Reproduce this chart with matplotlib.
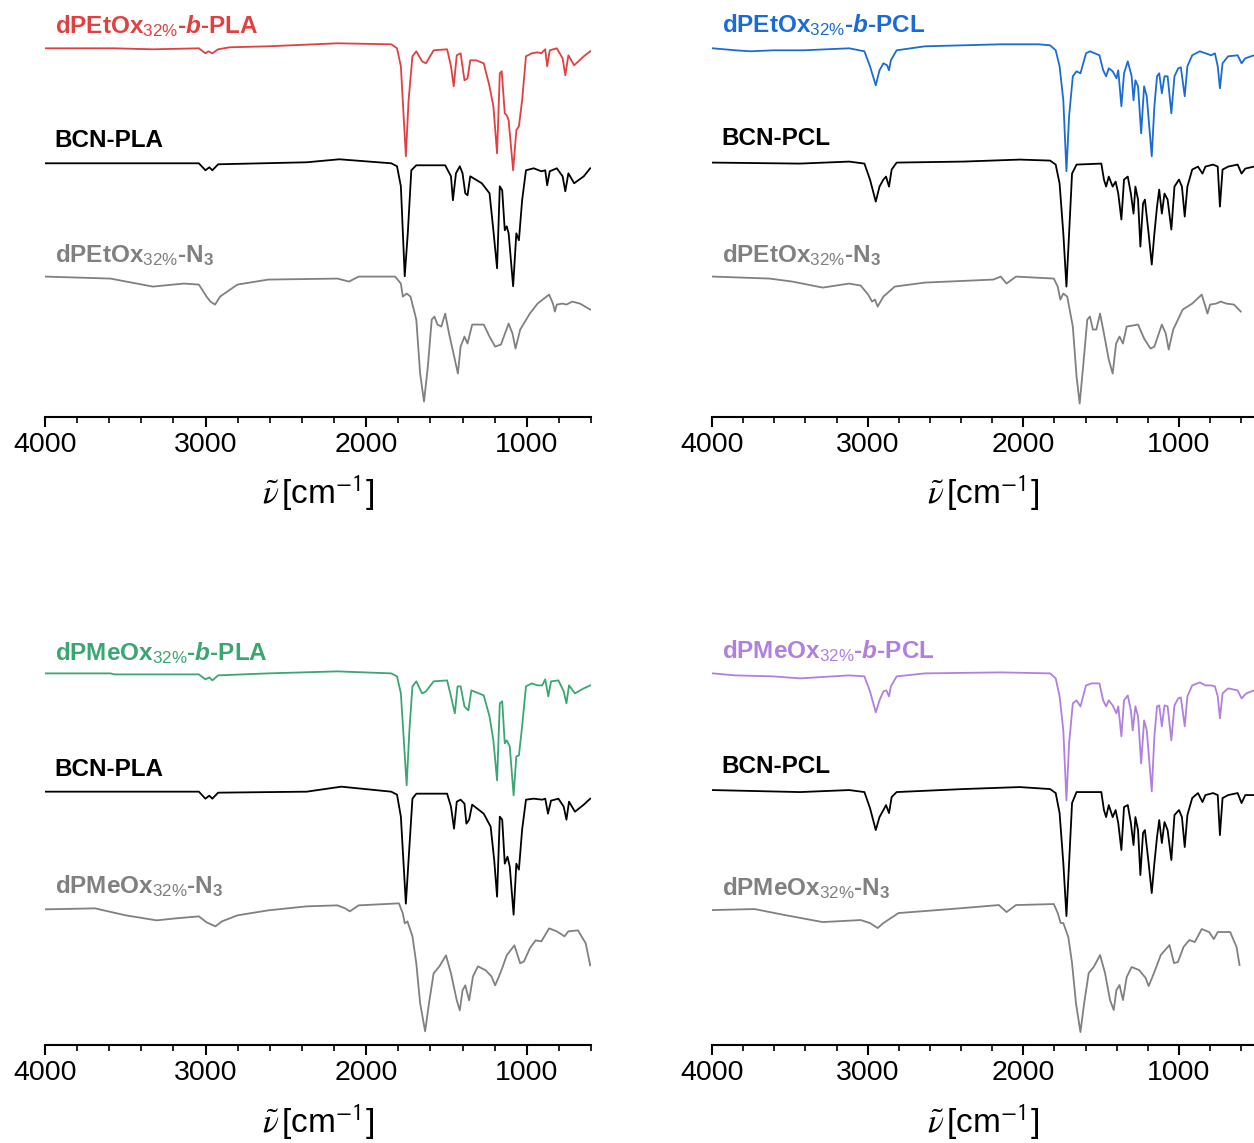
import matplotlib.pyplot as plt
from matplotlib.ticker import MultipleLocator

plt.rcParams['font.family'] = ['Liberation Sans', 'DejaVu Sans']
plt.rcParams['mathtext.fontset'] = 'custom'
plt.rcParams['mathtext.rm'] = 'Liberation Sans'
plt.rcParams['mathtext.it'] = 'Liberation Sans:italic'
plt.rcParams['mathtext.bf'] = 'Liberation Sans:bold'
plt.rcParams['mathtext.bfit'] = 'Liberation Sans:italic:bold'

# ---- spectra, wavenumber [cm-1] and relative transmittance (a.u.) ----
# panel 1: dPEtOx-b-PLA
etox_pla_wn = [4000, 3569, 3329, 3042, 3001, 2982, 2958, 2922, 2850, 2610, 2179, 1844, 1808, 1784,
               1753, 1736, 1712, 1688, 1652, 1628, 1580, 1496, 1472, 1455, 1436, 1412, 1388, 1369,
               1352, 1316, 1268, 1232, 1208, 1185, 1168, 1156, 1137, 1125, 1113, 1085, 1065, 1049,
               1029, 1005, 969, 933, 909, 885, 873, 857, 813, 777, 760, 741, 705, 645, 605]
etox_pla_t = [95, 95, 94, 95, 90, 92, 90, 94, 96, 97, 100, 99, 95, 77,
              -13, 43, 87, 92, 82, 80, 93, 94, 77, 57, 88, 90, 63, 65,
              83, 83, 80, 57, 37, -10, 70, 72, 30, 28, 23, -27, 13, 17,
              43, 87, 90, 91, 90, 94, 77, 93, 95, 85, 68, 88, 78, 87, 92]

bcn_pla1_wn = [4000, 3042, 3001, 2977, 2958, 2922, 2371, 2167, 1844, 1808, 1784, 1760, 1741, 1719,
               1688, 1508, 1472, 1460, 1441, 1417, 1400, 1383, 1369, 1352, 1280, 1232, 1208, 1185,
               1168, 1153, 1137, 1125, 1113, 1085, 1065, 1049, 1029, 1005, 957, 909, 885, 873,
               857, 813, 777, 760, 741, 705, 645, 605]
bcn_pla1_t = [100, 100, 93, 96, 93, 99, 101, 104, 100, 97, 77, -13, 30, 93,
              98, 98, 87, 63, 90, 97, 90, 70, 68, 87, 80, 70, 33, -5,
              77, 73, 33, 37, 30, -23, 30, 23, 63, 93, 95, 92, 93, 78,
              92, 95, 87, 72, 90, 80, 87, 95]

etox_n3_wn = [4000, 3593, 3329, 3137, 3042, 2994, 2970, 2941, 2910, 2802, 2610, 2179, 2107, 2047,
              1820, 1784, 1772, 1748, 1724, 1688, 1664, 1640, 1616, 1592, 1575, 1556, 1532, 1508,
              1484, 1448, 1429, 1412, 1388, 1369, 1340, 1268, 1232, 1197, 1161, 1113, 1089, 1070,
              1041, 981, 933, 861, 837, 825, 813, 777, 753, 717, 669, 605]
etox_n3_t = [100, 98, 90, 93, 92, 80, 75, 72, 80, 92, 97, 98, 95, 100,
             100, 93, 80, 83, 80, 57, 3, -25, 10, 57, 60, 52, 50, 63,
             43, 17, 3, 30, 40, 33, 52, 52, 40, 30, 32, 53, 43, 28,
             47, 63, 73, 82, 73, 65, 72, 73, 72, 75, 73, 67]

# panel 2: dPEtOx-b-PCL
etox_pcl_wn = [3995, 3849, 3752, 3606, 3411, 3119, 3021, 2985, 2948, 2924, 2899, 2875, 2863, 2851,
               2814, 2632, 2388, 2145, 1901, 1828, 1792, 1767, 1743, 1723, 1706, 1682, 1658, 1633,
               1597, 1572, 1511, 1487, 1468, 1451, 1426, 1402, 1390, 1370, 1353, 1329, 1304, 1292,
               1280, 1263, 1243, 1224, 1207, 1175, 1158, 1141, 1127, 1110, 1093, 1073, 1049, 1029,
               1005, 988, 963, 946, 915, 866, 830, 793, 769, 751, 737, 720, 684, 623, 598, 574, 518]
etox_pcl_t = [95, 93, 92, 93, 93, 95, 92, 77, 58, 73, 80, 78, 73, 83,
              93, 97, 98, 99, 99, 98, 93, 77, 43, -28, 27, 67, 72, 70,
              90, 92, 88, 73, 67, 75, 72, 65, 73, 37, 70, 82, 67, 43,
              63, 57, 10, 57, 47, -13, 37, 67, 70, 50, 67, 67, 30, 67,
              75, 76, 47, 77, 88, 92, 90, 88, 90, 77, 55, 80, 87, 88, 80, 85, 88]

bcn_pcl1_wn = [3995, 3435, 3119, 3021, 2985, 2948, 2924, 2899, 2882, 2863, 2846, 2814, 2388, 2023,
               1828, 1792, 1767, 1743, 1723, 1706, 1687, 1658, 1499, 1482, 1468, 1451, 1426, 1407,
               1390, 1370, 1353, 1329, 1309, 1292, 1280, 1263, 1248, 1231, 1219, 1195, 1175, 1158,
               1141, 1127, 1110, 1093, 1073, 1049, 1029, 1000, 981, 963, 946, 915, 878, 849,
               830, 781, 751, 737, 720, 684, 623, 598, 574, 518]
bcn_pcl1_t = [100, 99, 101, 99, 83, 61, 76, 83, 86, 76, 93, 100, 101, 103,
              102, 98, 79, 29, -24, 29, 89, 98, 99, 83, 76, 86, 76, 81,
              69, 43, 83, 86, 69, 49, 76, 63, 16, 59, 63, 29, -2, 29,
              56, 73, 49, 69, 63, 33, 76, 83, 76, 46, 76, 93, 96, 89,
              96, 98, 96, 56, 93, 96, 98, 89, 94, 96]

etox_n3b_wn = [3995, 3630, 3484, 3289, 3119, 3045, 2997, 2972, 2953, 2936, 2899, 2826, 2632, 2193,
               2145, 2108, 2047, 1804, 1779, 1762, 1743, 1718, 1682, 1658, 1638, 1614, 1589, 1572,
               1553, 1531, 1507, 1482, 1451, 1426, 1404, 1382, 1360, 1336, 1263, 1224, 1183, 1158,
               1110, 1085, 1066, 1037, 976, 915, 854, 830, 817, 800, 761, 732, 696, 647, 603]
etox_n3b_t = [100, 98, 95, 89, 93, 91, 82, 75, 77, 70, 80, 90, 94, 97,
              100, 93, 100, 98, 90, 77, 83, 80, 50, 0, -27, 13, 57, 60,
              47, 47, 63, 43, 17, 3, 33, 40, 33, 50, 52, 38, 28, 30,
              52, 43, 27, 47, 67, 73, 82, 70, 63, 72, 73, 75, 73, 72, 65]

# panel 3: dPMeOx-b-PLA
meox_pla_wn = [4000, 3593, 3569, 3042, 3001, 2977, 2958, 2922, 2610, 2179, 1844, 1808, 1784, 1748,
               1731, 1712, 1688, 1652, 1628, 1580, 1496, 1472, 1448, 1431, 1412, 1388, 1364, 1345,
               1268, 1232, 1208, 1185, 1168, 1153, 1137, 1125, 1106, 1082, 1065, 1049, 1029, 1005,
               969, 933, 904, 885, 866, 849, 803, 770, 753, 737, 700, 645, 605]
meox_pla_t = [100, 100, 99, 99, 94, 96, 93, 98, 100, 102, 100, 97, 80, -12,
              43, 87, 92, 80, 82, 92, 93, 77, 60, 87, 87, 67, 63, 83,
              78, 57, 33, -7, 70, 72, 30, 33, 27, -22, 17, 18, 47, 87,
              90, 88, 88, 94, 77, 92, 93, 82, 70, 88, 80, 85, 88]

bcn_pla2_wn = [4000, 3042, 3001, 2977, 2958, 2922, 2371, 2155, 1844, 1808, 1784, 1753, 1736, 1712,
               1688, 1496, 1472, 1453, 1436, 1412, 1388, 1376, 1359, 1340, 1268, 1225, 1203, 1185,
               1168, 1153, 1137, 1120, 1106, 1082, 1065, 1049, 1029, 1005, 957, 904, 885, 868,
               849, 803, 770, 753, 737, 700, 645, 605]
bcn_pla2_t = [100, 100, 93, 96, 93, 99, 100, 105, 100, 97, 75, -12, 32, 93,
              98, 98, 85, 63, 90, 92, 88, 68, 72, 87, 78, 65, 32, -5,
              75, 72, 28, 35, 25, -23, 28, 22, 62, 92, 93, 92, 93, 78,
              91, 93, 85, 72, 90, 80, 87, 93]

meox_n3_wn = [4000, 3689, 3497, 3305, 3185, 3042, 2994, 2939, 2898, 2802, 2610, 2371, 2179, 2131,
              2102, 2047, 1796, 1772, 1760, 1743, 1712, 1688, 1664, 1633, 1609, 1580, 1544, 1503,
              1472, 1436, 1417, 1400, 1383, 1359, 1335, 1304, 1256, 1220, 1197, 1173, 1149, 1125,
              1077, 1041, 1017, 981, 945, 909, 861, 813, 765, 741, 681, 633, 605]
meox_n3_t = [94, 95, 88, 83, 85, 87, 81, 77, 82, 88, 93, 97, 98, 95,
             92, 98, 100, 90, 80, 82, 67, 40, 0, -28, 0, 30, 37, 48,
             30, 3, -7, 13, 18, 3, 27, 37, 33, 27, 18, 27, 37, 48,
             58, 40, 42, 55, 63, 62, 75, 72, 67, 72, 73, 60, 38]

# panel 4: dPMeOx-b-PCL
meox_pcl_wn = [3995, 3849, 3606, 3435, 3119, 3021, 2985, 2948, 2924, 2899, 2880, 2863, 2851, 2814,
               2632, 2145, 1828, 1792, 1767, 1743, 1723, 1706, 1682, 1658, 1633, 1597, 1560, 1511,
               1487, 1468, 1451, 1426, 1402, 1390, 1370, 1353, 1329, 1309, 1297, 1280, 1263, 1243,
               1224, 1207, 1175, 1158, 1141, 1127, 1110, 1093, 1073, 1049, 1029, 1005, 988, 963,
               946, 915, 866, 830, 793, 769, 751, 737, 720, 684, 623, 598, 567, 518]
meox_pcl_t = [100, 98, 97, 95, 98, 97, 82, 61, 73, 82, 83, 77, 87, 97,
              100, 101, 100, 95, 77, 43, -27, 30, 70, 73, 67, 88, 90, 90,
              73, 67, 73, 68, 60, 67, 37, 73, 78, 63, 43, 67, 57, 10,
              53, 43, -18, 37, 67, 68, 47, 68, 67, 33, 68, 75, 76, 47,
              77, 88, 91, 88, 88, 87, 77, 55, 80, 85, 83, 75, 80, 83]

bcn_pcl2_wn = [3995, 3435, 3119, 3021, 2985, 2948, 2924, 2899, 2882, 2863, 2846, 2814, 2388, 2023,
               1828, 1792, 1767, 1743, 1723, 1706, 1687, 1658, 1499, 1482, 1468, 1451, 1426, 1407,
               1390, 1370, 1353, 1329, 1309, 1292, 1280, 1263, 1248, 1231, 1219, 1195, 1175, 1158,
               1141, 1127, 1110, 1093, 1073, 1049, 1029, 1000, 981, 963, 946, 915, 878, 849,
               830, 781, 751, 737, 720, 684, 623, 598, 574, 518]
bcn_pcl2_t = [100, 98, 100, 98, 82, 60, 73, 80, 85, 77, 93, 98, 101, 103,
              101, 97, 77, 27, -26, 27, 87, 98, 98, 80, 73, 85, 73, 80,
              67, 40, 83, 85, 67, 45, 73, 60, 15, 57, 60, 27, -3, 27,
              53, 70, 47, 68, 60, 30, 75, 80, 73, 43, 75, 92, 97, 88,
              95, 97, 95, 55, 92, 95, 97, 87, 95, 95]

meox_n3b_wn = [3995, 3727, 3532, 3289, 3167, 3045, 2985, 2936, 2899, 2802, 2632, 2388, 2157, 2108,
               2047, 1804, 1779, 1760, 1743, 1711, 1687, 1662, 1633, 1609, 1580, 1548, 1507, 1475,
               1443, 1419, 1402, 1382, 1360, 1336, 1304, 1256, 1214, 1195, 1171, 1146, 1117, 1061,
               1032, 1007, 971, 934, 898, 854, 806, 776, 751, 671, 630, 611]
meox_n3b_t = [94, 95, 89, 82, 83, 84, 81, 76, 81, 91, 93, 96, 99, 92,
              99, 100, 91, 81, 81, 67, 41, 1, -28, 1, 31, 37, 49, 31,
              4, -6, 14, 19, 4, 27, 37, 34, 26, 18, 27, 37, 49, 59,
              41, 42, 57, 64, 62, 75, 72, 65, 72, 72, 57, 39]

panels = [
    [('dPEtOx$_{\\mathrm{32\\%}}$-$\\mathbfit{b}$-PLA', etox_pla_wn, etox_pla_t, '#e0403f'),
     ('BCN-PLA', bcn_pla1_wn, bcn_pla1_t, 'black'),
     ('dPEtOx$_{\\mathrm{32\\%}}$-N$_{\\mathbf{3}}$', etox_n3_wn, etox_n3_t, '#808080')],
    [('dPEtOx$_{\\mathrm{32\\%}}$-$\\mathbfit{b}$-PCL', etox_pcl_wn, etox_pcl_t, '#1a6bd6'),
     ('BCN-PCL', bcn_pcl1_wn, bcn_pcl1_t, 'black'),
     ('dPEtOx$_{\\mathrm{32\\%}}$-N$_{\\mathbf{3}}$', etox_n3b_wn, etox_n3b_t, '#808080')],
    [('dPMeOx$_{\\mathrm{32\\%}}$-$\\mathbfit{b}$-PLA', meox_pla_wn, meox_pla_t, '#3aa672'),
     ('BCN-PLA', bcn_pla2_wn, bcn_pla2_t, 'black'),
     ('dPMeOx$_{\\mathrm{32\\%}}$-N$_{\\mathbf{3}}$', meox_n3_wn, meox_n3_t, '#808080')],
    [('dPMeOx$_{\\mathrm{32\\%}}$-$\\mathbfit{b}$-PCL', meox_pcl_wn, meox_pcl_t, '#b07fe0'),
     ('BCN-PCL', bcn_pcl2_wn, bcn_pcl2_t, 'black'),
     ('dPMeOx$_{\\mathrm{32\\%}}$-N$_{\\mathbf{3}}$', meox_n3b_wn, meox_n3b_t, '#808080')],
]

# layout
offsets = [[0, -120, -233.3], [0, -119.3, -233.3], [0, -118.3, -230], [0, -116.7, -230.7]]
label_y = [[110, -3.4, -118.4], [111, -2, -119], [113, -2.4, -120], [115, 0, -121.7]]
rects = [[0.0359, 0.6352, 0.4354, 0.3473], [0.5678, 0.6352, 0.4322, 0.3473],
         [0.0359, 0.0857, 0.4354, 0.3473], [0.5678, 0.0857, 0.4322, 0.3473]]
xlims = [(4000, 600), (4000, 518), (4000, 600), (4000, 518)]
ylims = [(-273.7, 123.3), (-273.7, 123.3), (-271.7, 125.3), (-271.7, 125.3)]

fig = plt.figure(figsize=(12.54, 11.43), dpi=100)

for i, traces in enumerate(panels):
    ax = fig.add_axes(rects[i])
    for j, (name, wn, t, col) in enumerate(traces):
        ax.plot(wn, [v + offsets[i][j] for v in t], color=col, lw=1.3)
        ax.text(0.018, label_y[i][j], name, color=col, fontsize=17.5, fontweight='bold',
                transform=ax.get_yaxis_transform(), va='baseline', ha='left')
    ax.set_xlim(*xlims[i])
    ax.set_ylim(*ylims[i])
    for s in ['left', 'right', 'top']:
        ax.spines[s].set_visible(False)
    ax.spines['bottom'].set_linewidth(1.5)
    ax.set_yticks([])
    ax.xaxis.set_major_locator(MultipleLocator(1000))
    ax.xaxis.set_minor_locator(MultipleLocator(200))
    ax.tick_params(axis='x', which='major', direction='out', length=7, width=1.5,
                   labelsize=20.5, pad=3.5)
    ax.tick_params(axis='x', which='minor', direction='out', length=4, width=1.2)
    ax.set_xlabel(r'$\tilde{\nu}\,$[cm$^{\mathsf{-1}}$]', fontsize=24, labelpad=12,
                  math_fontfamily='stix')
    ax.patch.set_alpha(0)

fig.savefig('out.png', dpi=100)
